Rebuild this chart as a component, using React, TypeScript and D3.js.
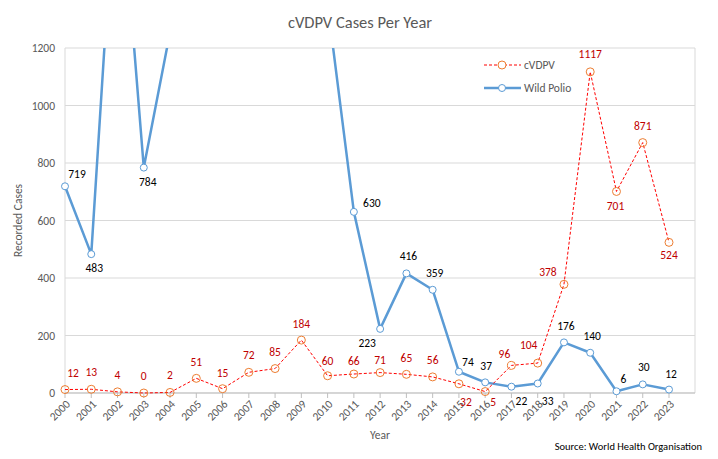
import React from "react";
import * as d3 from "d3";

const years = ["2000","2001","2002","2003","2004","2005","2006","2007","2008","2009","2010","2011","2012","2013","2014","2015","2016","2017","2018","2019","2020","2021","2022","2023"];
const cvdpv = [12,13,4,0,2,51,15,72,85,184,60,66,71,65,56,32,5,96,104,378,1117,701,871,524];
const wild = [719,483,1918,784,1255,1979,1997,1315,1651,1604,1352,630,223,416,359,74,37,22,33,176,140,6,30,12];
const yTicks = [0,200,400,600,800,1000,1200];

// label offsets (style, not data): [dx, dy] relative to point, text centre
const cvdpvLabelOffsets: [number, number][] = [
  [8,-17],[0,-17],[0,-17],[0,-17],[0,-17],[0,-16],[0,-16],[0,-17],[0,-17],[0,-16],[0,-15],[0,-13],
  [0,-13],[0,-16],[0,-17],[7,18],[8,10],[-7,-11],[-9,-18],[-16,-12],[0,-18],[-1,15],[0,-17],[0,13]
];
const wildLabelOffsets: [number, number][] = [
  [12,-12],[3,14],[0,0],[4,14],[0,0],[0,0],[0,0],[0,0],[0,0],[0,0],[0,0],[18,-9],
  [-13,14],[2,-17],[2,-17],[9,-10],[1,-16],[10,14],[10,17],[2,-16],[2,-17],[7,-12],[1,-17],[2,-16]
];

const W = 718, H = 459;
const left = 65, right = 695, top = 48, bottom = 393;
const FONT = "Calibri, Carlito, 'Liberation Sans', Arial, sans-serif";

export default function App() {
  const x = d3.scalePoint<string>().domain(years).range([left, 669]);
  const y = d3.scaleLinear().domain([0, 1200]).range([bottom, top]);
  const line = d3.line<number>().x((_, i) => x(years[i])!).y(d => y(d));
  const clipId = "plotclip";

  return (
    <svg width={W} height={H} style={{ position: "absolute", left: 0, top: 0, background: "#fff" }} fontFamily={FONT}>
      <defs>
        <clipPath id={clipId}>
          <rect x={left - 6} y={top} width={right - left + 12} height={bottom - top + 10} />
        </clipPath>
      </defs>
      <rect x={0} y={0} width={W} height={H} fill="#fff" />
      <text x={360} y={28} textAnchor="middle" fontSize={16.5} fill="#595959">cVDPV Cases Per Year</text>

      {yTicks.map(t => (
        <g key={t}>
          <line x1={left} x2={right} y1={y(t)} y2={y(t)} stroke="#D9D9D9" strokeWidth={1} />
          <text x={55} y={y(t)} dy="0.35em" textAnchor="end" fontSize={11.5} fill="#595959">{t}</text>
        </g>
      ))}
      <line x1={left} x2={left} y1={top} y2={bottom} stroke="#D9D9D9" />
      <line x1={right} x2={right} y1={top} y2={bottom} stroke="#D9D9D9" />
      <line x1={left} x2={right} y1={bottom} y2={bottom} stroke="#BFBFBF" />
      {years.map(yr => (
        <g key={yr}>
          <line x1={x(yr)!} x2={x(yr)!} y1={bottom} y2={bottom + 5} stroke="#BFBFBF" />
          <text transform={`translate(${x(yr)! + 3},${bottom + 9}) rotate(-45)`} textAnchor="end" dy="0.35em" fontSize={11.5} fill="#595959">{yr}</text>
        </g>
      ))}
      <text transform={`translate(22,${(top + bottom) / 2}) rotate(-90)`} textAnchor="middle" fontSize={11.5} fill="#595959">Recorded Cases</text>
      <text x={(left + right) / 2} y={439} textAnchor="middle" fontSize={11.5} fill="#595959">Year</text>
      <text x={702} y={450} textAnchor="end" fontSize={10.5} fill="#000">Source: World Health Organisation</text>

      <g clipPath={`url(#${clipId})`}>
        <path d={line(wild)!} fill="none" stroke="#5B9BD5" strokeWidth={2.5} strokeLinejoin="round" />
        {wild.map((v, i) => (
          <circle key={i} cx={x(years[i])!} cy={y(v)} r={3.5} fill="#fff" stroke="#5B9BD5" strokeWidth={1} />
        ))}
        <path d={line(cvdpv)!} fill="none" stroke="#FF0000" strokeWidth={1} strokeDasharray="3,2" />
        {cvdpv.map((v, i) => (
          <circle key={i} cx={x(years[i])!} cy={y(v)} r={4} fill="none" stroke="#ED7D31" strokeWidth={1} />
        ))}
      </g>

      {wild.map((v, i) => v <= 1200 ? (
        <text key={i} x={x(years[i])! + wildLabelOffsets[i][0]} y={y(v) + wildLabelOffsets[i][1]} dy="0.35em" textAnchor="middle" fontSize={11.5} fill="#000">{v}</text>
      ) : null)}
      {cvdpv.map((v, i) => (
        <text key={i} x={x(years[i])! + cvdpvLabelOffsets[i][0]} y={y(v) + cvdpvLabelOffsets[i][1]} dy="0.35em" textAnchor="middle" fontSize={11.5} fill="#C00000">{v}</text>
      ))}

      <g>
        <line x1={484} x2={521} y1={65} y2={65} stroke="#FF0000" strokeWidth={1} strokeDasharray="3,2" />
        <circle cx={502} cy={65} r={4} fill="#fff" stroke="#ED7D31" />
        <text x={524} y={65} dy="0.35em" fontSize={11.5} fill="#595959">cVDPV</text>
        <line x1={484} x2={521} y1={88} y2={88} stroke="#5B9BD5" strokeWidth={2.5} />
        <circle cx={502} cy={88} r={3.5} fill="#fff" stroke="#5B9BD5" />
        <text x={524} y={88} dy="0.35em" fontSize={11.5} fill="#595959">Wild Polio</text>
      </g>
    </svg>
  );
}
